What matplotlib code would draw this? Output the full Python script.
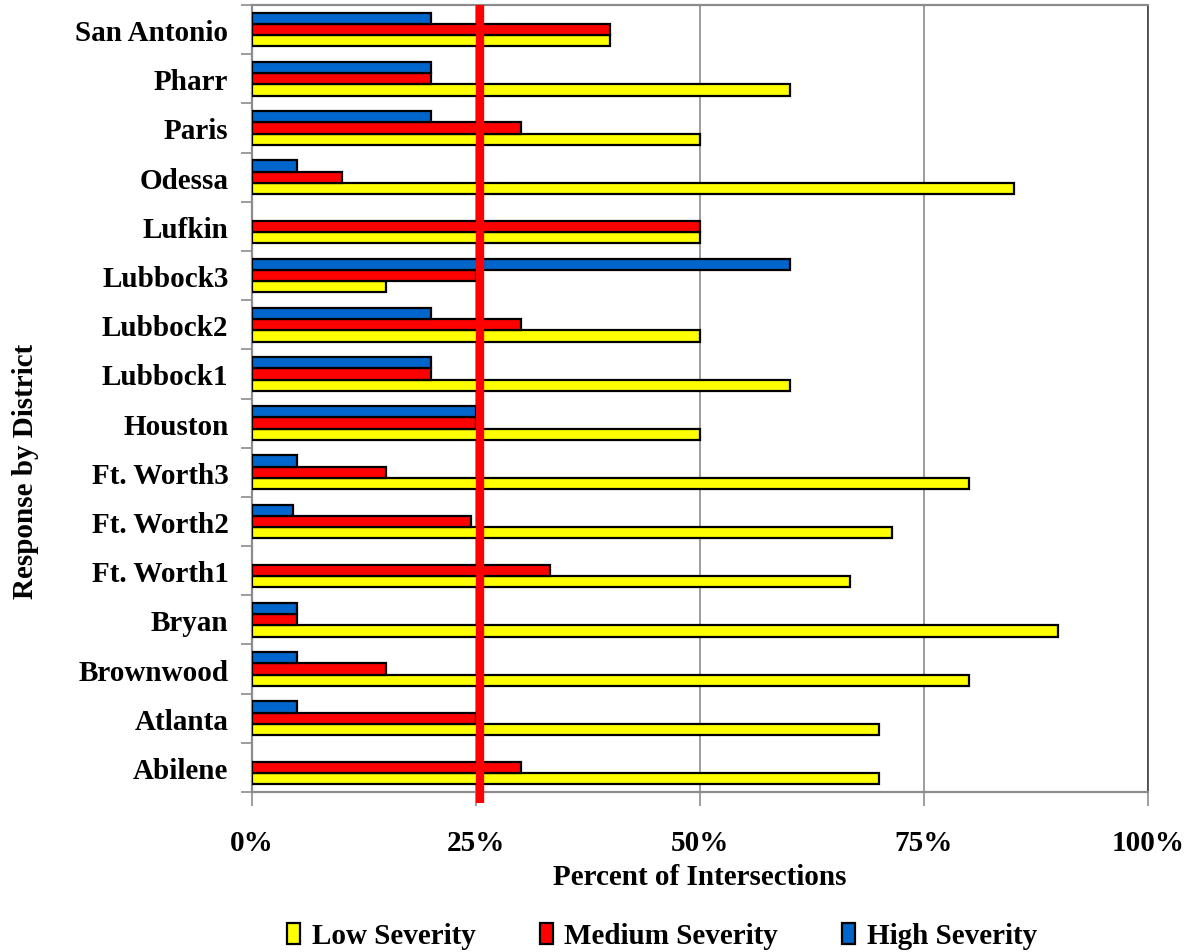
import numpy as np
import matplotlib
matplotlib.use("Agg")
import matplotlib.pyplot as plt
from matplotlib.patches import Patch

plt.rcParams["font.family"] = ["Liberation Serif", "DejaVu Serif"]
plt.rcParams["font.weight"] = "bold"

districts = ["Abilene", "Atlanta", "Brownwood", "Bryan", "Ft. Worth1", "Ft. Worth2",
             "Ft. Worth3", "Houston", "Lubbock1", "Lubbock2", "Lubbock3", "Lufkin",
             "Odessa", "Paris", "Pharr", "San Antonio"]
low = [70, 70, 80, 90, 66.7, 71.4, 80, 50, 60, 50, 15, 50, 85, 50, 60, 40]
medium = [30, 25, 15, 5, 33.3, 24.4, 15, 25, 20, 30, 25, 50, 10, 30, 20, 40]
high = [0, 5, 5, 5, 0, 4.6, 5, 25, 20, 20, 60, 0, 5, 20, 20, 20]
threshold = 25.4  # red marker line, drawn slightly right of the 25% gridline

series = [("Low Severity", low, "#ffff00"),
          ("Medium Severity", medium, "#ff0000"),
          ("High Severity", high, "#0066cc")]

FS = 21

fig = plt.figure(figsize=(11.93, 9.53), dpi=100)
ax = fig.add_axes([252 / 1193, 1 - 793 / 953, 896 / 1193, 787 / 953])

y = np.arange(len(districts))
h = 0.228
for i, (name, vals, col) in enumerate(series):
    lw = [1.6 if v > 0 else 0 for v in vals]
    ax.barh(y - h + i * h, vals, height=h, color=col, edgecolor="black", linewidth=lw, zorder=3)

ax.set_xlim(0, 100)
ax.set_ylim(-0.5, len(districts) - 0.5)

# gridlines and axes styling
ax.set_xticks([0, 25, 50, 75, 100])
ax.set_xticklabels(["0%", "25%", "50%", "75%", "100%"], fontsize=FS, fontweight="bold")
ax.xaxis.grid(True, color="#8c8c8c", linewidth=1.2, zorder=0)
ax.tick_params(axis="x", length=10, width=1.2, color="#8c8c8c", pad=17)

ax.set_yticks(y)
ax.set_yticklabels(districts, fontsize=FS, fontweight="bold")
ax.set_yticks(np.arange(-0.5, len(districts)), minor=True)
ax.tick_params(axis="y", which="major", length=0, pad=17)
ax.tick_params(axis="y", which="minor", length=8, width=1.2, color="#8c8c8c")

for s in ["left", "bottom", "top"]:
    ax.spines[s].set_color("#8c8c8c")
    ax.spines[s].set_linewidth(1.6)
ax.spines["right"].set_color("#404040")
ax.spines["right"].set_linewidth(1.2)

# threshold line
ax.plot([threshold, threshold], [-0.72, len(districts) - 0.5], color="#ff0000",
        linewidth=6, zorder=5, clip_on=False, solid_capstyle="butt")

ax.set_xlabel("Percent of Intersections", fontsize=FS, fontweight="bold", labelpad=5)
ax.set_ylabel("Response by District", fontsize=FS, fontweight="bold")
ax.yaxis.set_label_coords(-0.238, 0.408)

handles = [Patch(facecolor=c, edgecolor="black", linewidth=1.6, label=n) for n, _, c in series]
fig.legend(handles=handles, loc="center", bbox_to_anchor=(0.555, 1 - 937 / 953), ncol=3,
           frameon=False, fontsize=FS, handlelength=0.45, handleheight=0.7,
           handletextpad=0.4, columnspacing=2.2)

fig.savefig("out.png", dpi=100)
